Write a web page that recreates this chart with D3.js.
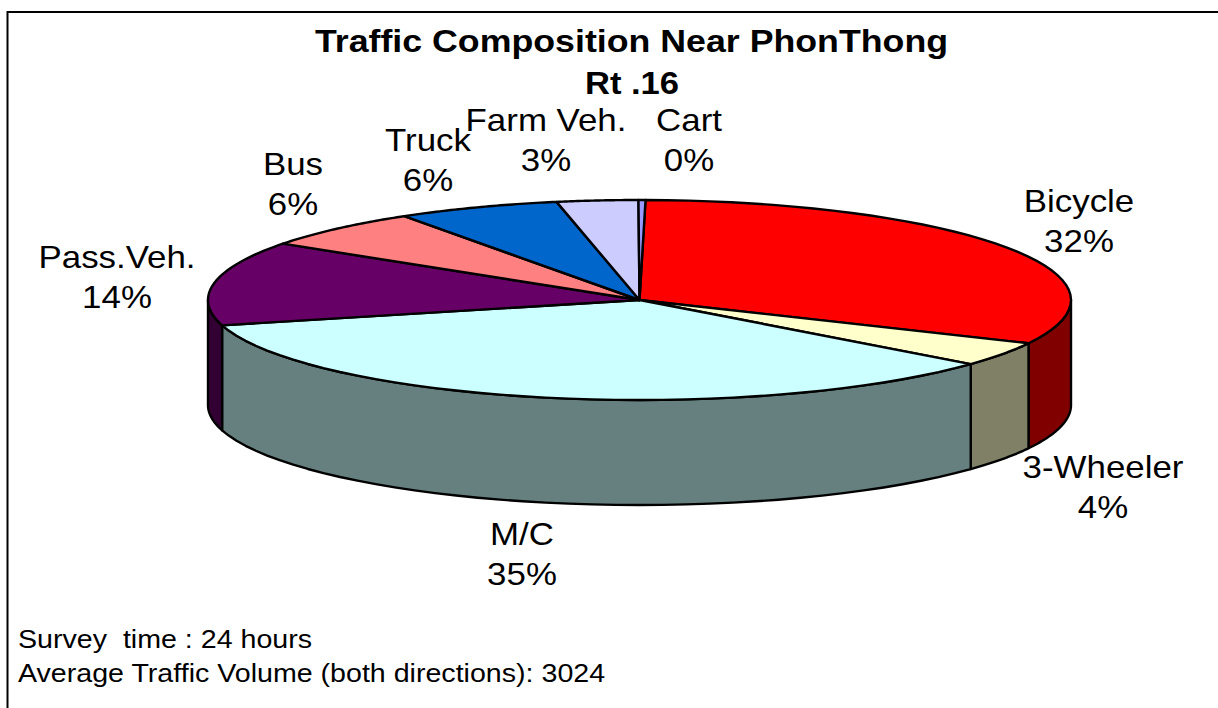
<!DOCTYPE html>
<html lang="en">
<head>
<meta charset="UTF-8" />
<title>Traffic Composition Near PhonThong</title>
<style>
    html, body { margin: 0; background: #fff; overflow: hidden; }
    svg { display: block; }
    text { font-family: "Liberation Sans", Arial, sans-serif; fill: #000; }
    .title { font-size: 32px; font-weight: 700; }
    .label { font-size: 32px; }
    .note { font-size: 26px; }
    .slice { stroke: #000; stroke-width: 2.4px; stroke-linejoin: round; }
</style>
<script src="https://cdnjs.cloudflare.com/ajax/libs/d3/7.9.0/d3.min.js"></script>
</head>
<body>
<svg width="1218" height="708"></svg>
<script>
    const categories = ["Bicycle", "3-Wheeler", "M/C", "Pass.Veh.", "Bus", "Truck", "Farm Veh.", "Cart"];
    const shares = [31.9, 3.95, 34.85, 13.6, 6.3, 6.1, 3.04, 0.26];
    const topColors = ["#ff0000", "#ffffcc", "#ccffff", "#660066", "#ff8080", "#0066cc", "#ccccff", "#9999ff"];
    const wallColors = ["#800000", "#808066", "#668080", "#330033", "#804040", "#003366", "#666680", "#4d4d80"];
    const titleLines = ["Traffic Composition Near PhonThong", "Rt .16"];
    const notes = ["Survey  time : 24 hours", "Average Traffic Volume (both directions): 3024"];

    // label anchor: centre x and baseline of the first line
    const labelPos = {
        "Bicycle": [1079, 212],
        "3-Wheeler": [1103, 478],
        "M/C": [522, 545],
        "Pass.Veh.": [117, 268],
        "Bus": [293, 175],
        "Truck": [428, 151],
        "Farm Veh.": [546, 131],
        "Cart": [689, 131],
    };

    const cx = 639.5, cy = 300, rx = 431.5, ry = 100, depth = 105;
    const startDeg = 0.8;

    const svg = d3.select("svg");

    // frame runs off the right and bottom of the picture
    svg.append("rect")
        .attr("x", 7.5).attr("y", 12)
        .attr("width", 1300).attr("height", 800)
        .attr("fill", "#fff").attr("stroke", "#000").attr("stroke-width", 2);

    const x = d3.scaleLinear().domain([-1, 1]).range([cx - rx, cx + rx]);
    const y = d3.scaleLinear().domain([-1, 1]).range([cy + ry, cy - ry]);

    const pie = d3.pie().sort(null)
        .startAngle(startDeg * Math.PI / 180)
        .endAngle(2 * Math.PI + startDeg * Math.PI / 180);
    const arcs = pie(shares);

    const rim = (a0, a1) => d3.range(0, 41).map((i) => a0 + (a1 - a0) * i / 40);
    const px = (a) => x(Math.sin(a));
    const py = (a) => y(Math.cos(a));
    const line = d3.line();

    // side walls: only the part of each slice on the front half shows
    const walls = arcs
        .map((d, i) => ({ a0: Math.max(d.startAngle, Math.PI / 2), a1: Math.min(d.endAngle, 3 * Math.PI / 2), i }))
        .filter((d) => d.a1 > d.a0);

    svg.append("g").selectAll("path")
        .data(walls)
        .join("path")
        .attr("class", "slice")
        .attr("fill", (d) => wallColors[d.i])
        .attr("d", (d) => {
            const angles = rim(d.a0, d.a1);
            const upper = angles.map((a) => [px(a), py(a)]);
            const lower = angles.slice().reverse().map((a) => [px(a), py(a) + depth]);
            return line(upper.concat(lower)) + "Z";
        });

    svg.append("g").selectAll("path")
        .data(arcs)
        .join("path")
        .attr("class", "slice")
        .attr("fill", (d, i) => topColors[i])
        .attr("d", (d) => {
            const edge = rim(d.startAngle, d.endAngle).map((a) => [px(a), py(a)]);
            return line([[x(0), y(0)]].concat(edge)) + "Z";
        });

    const stretched = (sel, tx, ty, sx) => sel.attr("transform", `translate(${tx},${ty}) scale(${sx},1)`);

    const pct = d3.format(".0%");
    const labels = svg.append("g").selectAll("g")
        .data(arcs)
        .join("g")
        .attr("transform", (d, i) => `translate(${labelPos[categories[i]][0]},${labelPos[categories[i]][1]}) scale(1.09,1)`)
        .attr("text-anchor", "middle");
    labels.append("text").attr("class", "label").text((d, i) => categories[i]);
    labels.append("text").attr("class", "label").attr("y", 40).text((d) => pct(d.value / 100));

    svg.append("text").attr("class", "title").attr("text-anchor", "middle")
        .call(stretched, 631.5, 52, 1.117)
        .text(titleLines[0]);
    svg.append("text").attr("class", "title").attr("text-anchor", "middle")
        .call(stretched, 632, 94, 1.08)
        .text(titleLines[1]);

    notes.forEach((t, i) => {
        svg.append("text").attr("class", "note")
            .style("white-space", "pre")
            .call(stretched, 18, 648 + i * 34, 1.1)
            .text(t);
    });
</script>
</body>
</html>
